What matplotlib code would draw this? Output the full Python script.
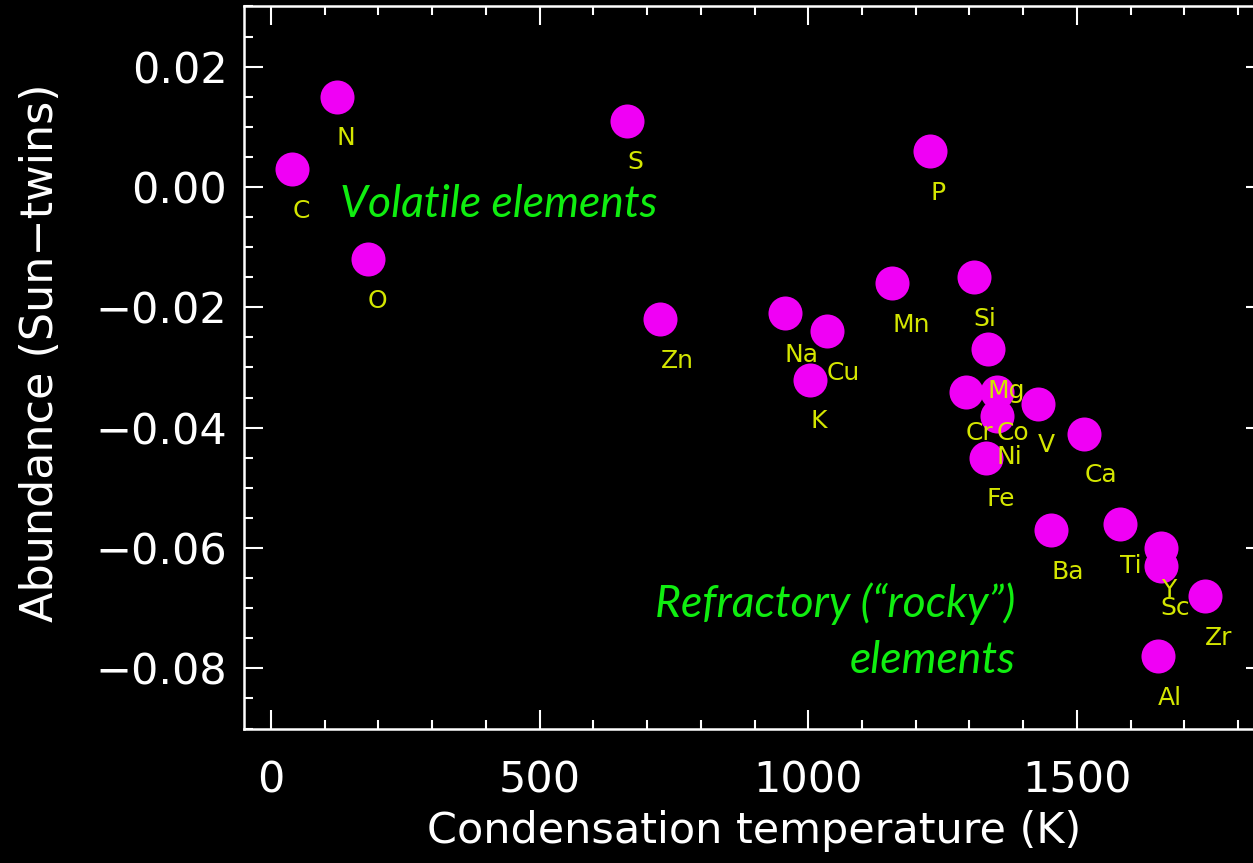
import matplotlib
matplotlib.use('Agg')
import matplotlib.pyplot as plt
from matplotlib.ticker import MultipleLocator

# condensation temperature (K) and abundance (Sun - twins) per element
elements = ['C', 'N', 'O', 'S', 'Zn', 'Na', 'K', 'Cu', 'Mn', 'P', 'Si', 'Cr',
            'Mg', 'Co', 'Ni', 'Fe', 'V', 'Ba', 'Ca', 'Ti', 'Al', 'Y', 'Sc', 'Zr']
tcond = [40, 123, 180, 663, 725, 956, 1004, 1035, 1156, 1227, 1308, 1293,
         1334, 1351, 1351, 1331, 1427, 1452, 1514, 1580, 1650, 1656, 1656, 1738]
abund = [0.003, 0.015, -0.012, 0.011, -0.022, -0.021, -0.032, -0.024, -0.016,
         0.006, -0.015, -0.034, -0.027, -0.034, -0.038, -0.045, -0.036, -0.057,
         -0.041, -0.056, -0.078, -0.060, -0.063, -0.068]

fg = 'white'
dot_color = '#f000f5'
label_color = '#d4e600'
note_color = '#10ee10'

fig = plt.figure(figsize=(12.53, 8.63), dpi=100, facecolor='black')
ax = fig.add_axes([244 / 1253, 1 - 728.5 / 863, (1265 - 244) / 1253, (728.5 - 6.5) / 863])
ax.set_facecolor('black')

ax.plot(tcond, abund, 'o', color=dot_color, markersize=24.5, markeredgewidth=0, zorder=2)
for el, x, y in zip(elements, tcond, abund):
    ax.annotate(el, (x, y), xytext=(0, -35), textcoords='offset points',
                ha='left', va='baseline', color=label_color, fontsize=18, zorder=3)

ax.set_xlim(-50, 1850)
ax.set_ylim(-0.09, 0.03)
ax.xaxis.set_major_locator(MultipleLocator(500))
ax.xaxis.set_minor_locator(MultipleLocator(100))
ax.yaxis.set_major_locator(MultipleLocator(0.02))
ax.yaxis.set_minor_locator(MultipleLocator(0.005))
ax.yaxis.set_major_formatter(matplotlib.ticker.FuncFormatter(
    lambda v, p: ('\u2212' if v < -1e-9 else '') + '%.2f' % abs(v)))

for s in ax.spines.values():
    s.set_color(fg)
    s.set_linewidth(1.8)
ax.tick_params(which='both', direction='in', top=True, right=True, colors=fg, width=1.5)
ax.tick_params(which='major', length=13.7)
ax.tick_params(which='minor', length=6.5)
ax.tick_params(axis='x', which='major', labelsize=31, pad=22)
ax.tick_params(axis='y', which='major', labelsize=31, pad=12)

ax.set_xlabel('Condensation temperature (K)', color=fg, fontsize=31)
ax.set_ylabel('Abundance (Sun\u2212twins)', color=fg, fontsize=32)
ax.xaxis.set_label_coords(0.5, -0.113)
ax.yaxis.set_label_coords(-0.178, 0.52)

note_font = dict(family='Lato', style='italic', fontsize=32, color=note_color)
ax.text(129, -0.005, 'Volatile elements', ha='left', va='baseline', **note_font)
ax.text(1385, -0.0715, 'Refractory (\u201crocky\u201d)', ha='right', va='baseline', **note_font)
ax.text(1385, -0.0807, 'elements', ha='right', va='baseline', **note_font)

fig.savefig('out.png', dpi=100, facecolor='black')
